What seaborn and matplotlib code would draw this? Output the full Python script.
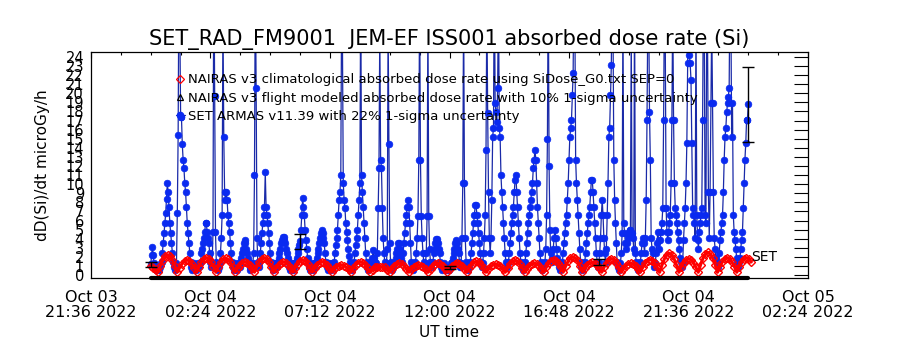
import numpy as np
import pandas as pd
import matplotlib
matplotlib.use("Agg")
import matplotlib.pyplot as plt
import matplotlib.dates as mdates
from matplotlib.lines import Line2D
from matplotlib.ticker import MultipleLocator
import seaborn as sns

# ---- data (microGy/h) ----
start_time = "2022-10-04 00:00"
blue_step_min = 2.0        # SET ARMAS samples
red_step_min = 5.8125      # NAIRAS climatological samples
flight_step_min = 60.0     # NAIRAS flight modeled samples

set_armas = [
    1.2, 2.2, 3.1, 2.2, 1.3, 0.9, 0.5, 0.9, 0.5, 0.9,          # 0
    0.5, 0.9, 1.3, 1.4, 2.4, 3.5, 4.6, 5.7, 6.8, 8.4,
    10.1, 9.1, 7.5, 5.7, 4.6, 3.5, 2.4, 1.4, 0.9, 0.5,
    0.9, 1.3, 6.8, 15.4, 34.0, 28.0, 17.4, 17.4, 14.4, 12.7,
    11.8, 10.1, 9.1, 7.5, 5.7, 4.6, 3.5, 2.4, 1.4, 0.9,
    0.5, 0.9, 1.3, 0.9, 0.5, 0.9, 0.9, 1.3, 0.9, 1.3,          # 50
    1.4, 2.4, 2.9, 3.5, 4.1, 4.7, 5.7, 5.7, 4.7, 4.1,
    3.5, 2.4, 1.4, 0.9, 1.3, 4.7, 36.0, 19.7, 4.7, 1.4,
    0.9, 0.5, 0.9, 1.3, 2.4, 4.1, 6.6, 29.0, 15.2, 9.1,
    8.3, 9.1, 8.3, 6.6, 5.7, 4.7, 3.5, 2.4, 1.4, 0.9,
    0.5, 0.9, 1.3, 0.9, 0.5, 0.9, 1.3, 0.9, 1.4, 1.9,          # 100
    2.4, 2.9, 3.5, 3.9, 3.5, 2.9, 2.4, 1.9, 1.4, 0.9,
    0.5, 0.9, 0.9, 1.3, 2.4, 11.0, 33.0, 20.6, 4.1, 1.4,
    0.9, 1.3, 2.4, 3.5, 4.6, 5.7, 6.6, 7.5, 11.3, 7.5,
    6.6, 5.7, 4.6, 3.5, 2.4, 1.4, 0.9, 0.5, 0.9, 1.3,
    0.9, 1.3, 0.9, 1.4, 1.9, 2.4, 2.9, 3.5, 3.9, 4.2,          # 150
    4.2, 3.9, 3.5, 2.9, 2.4, 1.9, 1.4, 0.9, 0.5, 0.9,
    1.3, 0.9, 0.5, 0.9, 1.3, 1.4, 1.9, 2.4, 2.9, 3.3,
    3.7, 5.0, 6.6, 8.5, 7.5, 6.6, 5.0, 3.9, 2.9, 1.9,
    1.4, 0.9, 0.5, 0.9, 1.3, 0.9, 0.5, 0.9, 1.3, 1.4,
    1.9, 2.4, 2.9, 3.5, 4.1, 4.6, 5.0, 4.6, 4.1, 3.5,          # 200
    2.4, 1.4, 0.9, 0.5, 0.9, 1.3, 0.9, 0.5, 0.9, 1.3,
    0.9, 1.4, 2.4, 3.3, 4.1, 5.0, 6.6, 8.3, 9.1, 11.0,
    30.0, 25.5, 10.1, 8.3, 7.4, 5.7, 4.7, 3.9, 2.9, 2.1,
    1.4, 0.9, 0.5, 0.9, 1.3, 1.4, 2.4, 3.3, 4.1, 5.0,
    6.6, 8.3, 10.1, 32.0, 11.0, 9.1, 7.5, 5.7, 4.1, 2.4,       # 250
    1.4, 0.9, 0.5, 0.9, 1.3, 0.9, 1.4, 1.9, 2.7, 1.9,
    1.4, 0.9, 1.3, 2.4, 7.4, 11.8, 27.0, 12.7, 11.8, 7.4,
    4.1, 2.4, 1.4, 0.9, 1.3, 2.9, 28.0, 14.4, 3.5, 1.4,
    0.9, 0.5, 0.9, 1.3, 1.4, 1.9, 2.4, 2.9, 3.5, 3.5,
    2.9, 2.4, 1.9, 1.4, 2.4, 3.5, 4.6, 5.7, 6.6, 7.5,          # 300
    8.3, 7.5, 5.7, 3.5, 1.4, 0.9, 0.5, 0.9, 1.3, 1.4,
    2.4, 4.1, 6.5, 12.7, 31.0, 12.7, 6.5, 4.1, 2.4, 1.4,
    0.9, 1.3, 2.4, 6.5, 29.0, 6.5, 2.9, 1.4, 0.9, 1.3,
    1.4, 2.4, 2.9, 3.5, 4.0, 4.0, 3.5, 2.9, 2.4, 1.4,
    0.9, 0.5, 0.9, 1.3, 0.9, 0.5, 0.9, 0.5, 0.9, 0.5,          # 350
    0.8, 0.9, 1.3, 1.4, 1.9, 2.4, 2.9, 3.5, 3.9, 3.5,
    2.9, 2.4, 1.4, 0.9, 1.3, 4.1, 10.1, 30.0, 10.1, 4.1,
    1.4, 0.9, 0.5, 0.9, 1.3, 1.4, 2.4, 3.5, 4.6, 5.7,
    6.6, 7.7, 7.7, 6.6, 5.7, 4.6, 3.5, 2.4, 1.4, 0.9,
    1.3, 2.4, 4.1, 6.6, 13.8, 30.0, 17.8, 9.1, 4.1, 2.4,       # 400
    4.1, 8.3, 15.2, 16.2, 34.0, 18.9, 17.9, 16.8, 20.6, 31.0,
    16.2, 15.2, 11.0, 9.1, 7.5, 5.7, 4.1, 2.4, 1.4, 0.9,
    1.3, 1.4, 2.4, 3.5, 4.6, 5.7, 6.6, 7.5, 9.1, 10.5,
    11.0, 9.1, 7.5, 5.7, 4.1, 2.4, 1.4, 0.9, 0.5, 0.9,
    1.3, 1.4, 2.4, 3.5, 4.6, 5.7, 6.6, 7.5, 8.3, 9.1,          # 450
    10.1, 11.8, 12.7, 13.8, 12.7, 10.1, 7.5, 5.7, 4.1, 2.4,
    1.4, 0.9, 0.5, 0.9, 1.3, 1.4, 2.9, 6.6, 15.0, 33.0,
    12.0, 5.0, 2.4, 1.4, 1.9, 2.9, 4.1, 5.0, 4.1, 2.9,
    1.9, 1.4, 0.9, 0.5, 0.9, 1.3, 1.4, 2.4, 3.5, 4.6,
    5.7, 6.6, 8.3, 10.1, 12.7, 15.2, 16.2, 17.1, 19.8, 22.2,   # 500
    35.0, 30.0, 12.7, 10.1, 8.3, 6.6, 4.6, 2.9, 1.4, 0.9,
    0.5, 0.9, 1.3, 1.4, 2.4, 3.5, 4.6, 5.7, 6.6, 7.5,
    9.1, 10.5, 10.5, 9.1, 7.5, 5.7, 4.1, 2.4, 1.4, 0.9,
    1.4, 2.4, 4.1, 6.6, 8.3, 6.6, 4.1, 2.4, 1.4, 2.9,
    6.6, 10.1, 15.2, 16.2, 19.8, 23.1, 36.0, 28.0, 12.7, 8.3,  # 550
    5.7, 3.5, 1.4, 0.9, 0.5, 0.9, 1.3, 2.4, 4.6, 30.0,
    5.7, 4.6, 3.5, 2.9, 3.5, 4.1, 4.6, 5.0, 5.0, 27.0,
    4.6, 4.1, 2.9, 31.0, 2.4, 1.4, 0.9, 0.5, 0.9, 1.3,
    1.4, 2.4, 3.5, 4.1, 3.5, 2.4, 4.1, 8.3, 17.1, 29.0,
    30.0, 17.9, 12.7, 4.1, 2.9, 2.4, 1.4, 0.9, 1.3, 2.4,       # 600
    3.5, 4.7, 3.9, 2.9, 3.9, 4.7, 5.7, 7.4, 17.1, 31.0,
    26.0, 7.4, 4.7, 3.9, 4.7, 5.7, 6.6, 10.1, 17.1, 30.0,
    17.1, 10.1, 7.4, 6.6, 5.7, 4.7, 3.9, 2.9, 1.9, 1.4,
    0.9, 1.4, 3.9, 5.7, 7.4, 10.1, 14.5, 23.3, 30.0, 24.2,
    23.3, 21.5, 14.5, 7.4, 6.6, 5.7, 4.1, 29.0, 6.6, 3.9,      # 650
    2.9, 4.7, 5.7, 6.6, 7.4, 17.1, 32.0, 27.0, 6.6, 5.7,
    31.0, 25.0, 9.1, 4.1, 9.1, 18.9, 28.0, 18.9, 9.1, 4.1,
    2.9, 1.9, 1.4, 0.9, 1.4, 2.4, 3.9, 4.7, 5.7, 6.6,
    9.1, 12.7, 15.2, 16.2, 17.9, 18.9, 19.6, 20.6, 33.0, 30.0,
    15.2, 18.9, 6.6, 4.7, 3.9, 2.9, 1.9, 1.4, 0.9, 1.4,        # 700
    1.9, 2.9, 3.9, 4.7, 7.4, 10.1, 12.7, 14.5, 17.1, 17.1,
    18.8,
]

nairas_clim = [
    1.0, 0.75, 0.5,
    0.3, 1.03, 1.64, 2.06, 2.2, 2.06, 1.64, 1.03,
    0.3, 0.82, 1.25, 1.55, 1.65, 1.55, 1.25, 0.82,
    0.3, 0.91, 1.43, 1.78, 1.9, 1.78, 1.43, 0.91,
    0.3, 0.89, 1.4, 1.73, 1.85, 1.73, 1.4, 0.89,
    0.3, 0.74, 1.11, 1.36, 1.45, 1.36, 1.11, 0.74,
    0.3, 0.91, 1.43, 1.78, 1.9, 1.78, 1.43, 0.91,
    0.3, 0.74, 1.11, 1.36, 1.45, 1.36, 1.11, 0.74,
    0.3, 0.82, 1.25, 1.55, 1.65, 1.55, 1.25, 0.82,
    0.3, 0.74, 1.11, 1.36, 1.45, 1.36, 1.11, 0.74,
    0.3, 0.61, 0.87, 1.04, 1.1, 1.04, 0.87, 0.61,
    0.3, 0.74, 1.11, 1.36, 1.45, 1.36, 1.11, 0.74,
    0.3, 0.6, 0.85, 0.9, 0.9, 0.9, 0.85, 0.6,
    0.3, 0.68, 1.01, 1.22, 1.3, 1.22, 1.01, 0.68,
    0.3, 0.61, 0.87, 1.04, 1.1, 1.04, 0.87, 0.61,
    0.3, 0.68, 1.01, 1.22, 1.3, 1.22, 1.01, 0.68,
    0.3, 0.68, 1.01, 1.22, 1.3, 1.22, 1.01, 0.68,
    0.3, 0.76, 1.15, 1.41, 1.5, 1.41, 1.15, 0.76,
    0.3, 0.64, 0.94, 1.13, 1.2, 1.13, 0.94, 0.64,
    0.3, 0.8, 1.22, 1.5, 1.6, 1.5, 1.22, 0.8,
    0.3, 0.68, 1.01, 1.22, 1.3, 1.22, 1.01, 0.68,
    0.3, 0.84, 1.29, 1.59, 1.7, 1.59, 1.29, 0.84,
    0.3, 0.95, 1.5, 1.87, 2.0, 1.87, 1.5, 0.95,
    0.3, 0.72, 1.08, 1.32, 1.4, 1.32, 1.08, 0.72,
    0.3, 0.87, 1.36, 1.69, 1.8, 1.69, 1.36, 0.87,
    0.3, 0.68, 1.01, 1.22, 1.3, 1.22, 1.01, 0.68,
    0.3, 0.84, 1.29, 1.59, 1.7, 1.59, 1.29, 0.84,
    0.3, 1.1, 1.78, 2.24, 2.4, 2.24, 1.78, 1.1,
    0.3, 0.87, 1.36, 1.69, 1.8, 1.69, 1.36, 0.87,
    0.3, 1.14, 1.86, 2.33, 2.5, 2.33, 1.86, 1.14,
    0.3, 0.91, 1.43, 1.78, 1.9, 1.78, 1.43, 0.91,
    0.3, 0.91, 1.43, 1.78, 1.9, 1.78, 1.43,
]

# flight model sits on the bottom of the plot
nairas_flight = [
    -0.33, -0.33, -0.33, -0.33, -0.33, -0.33, -0.33, -0.33, -0.33, -0.33,
    -0.33, -0.33, -0.33, -0.33, -0.33, -0.33, -0.33, -0.33, -0.33, -0.33,
    -0.33, -0.33, -0.33, -0.33, -0.33,
]

# SET points drawn with their 22% 1-sigma bars
err_idx = [0, 180, 360, 540, 720]
rel_err = 0.22

tick_times = ["2022-10-03 21:36", "2022-10-04 02:24", "2022-10-04 07:12",
              "2022-10-04 12:00", "2022-10-04 16:48", "2022-10-04 21:36",
              "2022-10-05 02:24"]
tick_labels = ["Oct 03\n21:36 2022", "Oct 04\n02:24 2022", "Oct 04\n07:12 2022",
               "Oct 04\n12:00 2022", "Oct 04\n16:48 2022", "Oct 04\n21:36 2022",
               "Oct 05\n02:24 2022"]
y_ticks = [0, 1, 2, 3, 4, 5, 6, 7, 8, 9, 10, 11, 12, 13, 14, 15, 16, 17, 18,
           19, 20, 21, 22, 23, 24]

legend_labels = [
    "NAIRAS v3 climatological absorbed dose rate using SiDose_G0.txt SEP=0",
    "NAIRAS v3 flight modeled absorbed dose rate with 10% 1-sigma uncertainty",
    "SET ARMAS v11.39 with 22% 1-sigma uncertainty",
]

# ---- frames ----
t0 = pd.Timestamp(start_time)
df_blue = pd.DataFrame({
    "time": t0 + pd.to_timedelta(np.arange(len(set_armas)) * blue_step_min, unit="min"),
    "dose": set_armas})
df_red = pd.DataFrame({
    "time": t0 + pd.to_timedelta(np.arange(len(nairas_clim)) * red_step_min, unit="min"),
    "dose": nairas_clim})
df_flight = pd.DataFrame({
    "time": t0 + pd.to_timedelta(np.arange(len(nairas_flight)) * flight_step_min, unit="min"),
    "dose": nairas_flight})
df_err = df_blue.iloc[err_idx]

# ---- plot ----
sns.set_style("white")
plt.rcParams["font.family"] = ["DejaVu Sans"]
plt.rcParams["text.color"] = "black"
plt.rcParams["axes.labelcolor"] = "black"
plt.rcParams["xtick.color"] = "black"
plt.rcParams["ytick.color"] = "black"

fig = plt.figure(figsize=(9, 3.5), dpi=100)
ax = fig.add_axes([91 / 900, 72 / 350, 717 / 900, 226 / 350])

blue_line = "#1a2aa8"
blue_dot = "#0a2af0"

sns.lineplot(data=df_blue, x="time", y="dose", ax=ax, estimator=None, sort=False,
             color=blue_line, lw=0.9, marker="o", markersize=4.8,
             markerfacecolor=blue_dot, markeredgecolor=blue_dot, markeredgewidth=0.5)
sns.lineplot(data=df_red, x="time", y="dose", ax=ax, estimator=None, sort=False,
             color="red", lw=2.2, marker="D", markersize=4.5,
             markerfacecolor="none", markeredgecolor="red", markeredgewidth=1.0)
sns.lineplot(data=df_flight, x="time", y="dose", ax=ax, estimator=None, sort=False,
             color="black", lw=3, clip_on=False)
ax.errorbar(df_err["time"], df_err["dose"], yerr=df_err["dose"] * rel_err,
            fmt="none", ecolor="black", elinewidth=1, capsize=4, capthick=1)

ax.text(mdates.date2num(df_blue["time"].iloc[-1] + pd.Timedelta(minutes=8)), 2.0, "SET",
        fontsize=10, ha="left", va="center")

ax.set_xlim(pd.Timestamp(tick_times[0]), pd.Timestamp(tick_times[-1]))
ax.set_ylim(-0.33, 24.55)
ax.set_xticks(pd.to_datetime(tick_times))
ax.set_xticklabels(tick_labels, linespacing=0.95)
ax.xaxis.set_minor_locator(MultipleLocator(0.05))
ax.set_yticks(y_ticks)
ax.set_yticklabels([str(v) for v in y_ticks])

ax.tick_params(axis="both", which="both", direction="in", top=True, right=True,
               color="black")
ax.tick_params(axis="y", length=10, width=0.8, labelsize=10.5, pad=5)
ax.tick_params(axis="x", which="major", length=4, width=0.8, labelsize=11.5, pad=9)
ax.tick_params(axis="x", which="minor", length=2.2, width=0.8)
for s in ax.spines.values():
    s.set_color("black")
    s.set_linewidth(0.9)

ax.set_title("SET_RAD_FM9001  JEM-EF ISS001 absorbed dose rate (Si)", fontsize=15, pad=5)
ax.set_xlabel("UT time", fontsize=11)
ax.set_ylabel("dD(Si)/dt microGy/h", fontsize=11)
ax.xaxis.set_label_coords(0.5, -0.21)
ax.yaxis.set_label_coords(-0.057, 0.5)

handles = [
    Line2D([], [], ls="none", marker="D", ms=4, mfc="none", mec="red", mew=0.9),
    Line2D([], [], ls="none", marker="^", ms=5, mfc="none", mec="black", mew=0.9),
    Line2D([], [], color=blue_line, lw=0.9, marker="o", ms=4.5, mfc=blue_dot, mec=blue_dot),
]
ax.legend(handles, legend_labels, loc="upper left", bbox_to_anchor=(0.118, 0.905),
          frameon=False, fontsize=9.5, handlelength=0.7, handletextpad=0.25,
          labelspacing=0.4, borderaxespad=0, borderpad=0)

fig.savefig("out.png", dpi=100, facecolor="white")
